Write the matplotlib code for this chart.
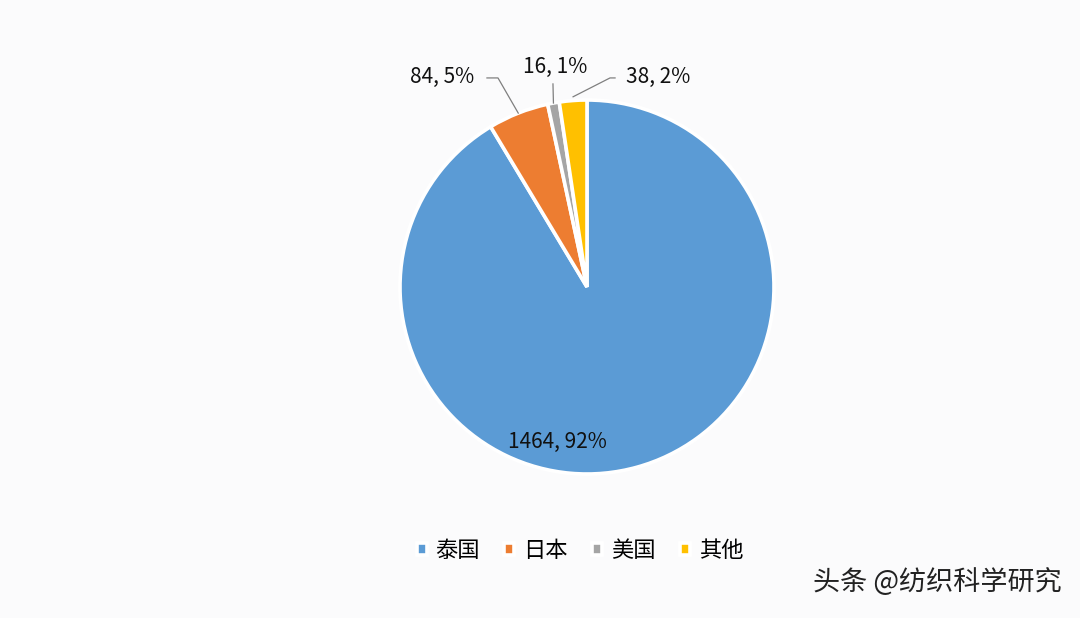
import numpy as np
import matplotlib.pyplot as plt

plt.rcParams['font.family'] = ['Noto Sans CJK SC', 'DejaVu Sans']

# data
countries = ["泰国", "日本", "美国", "其他"]
values = [1464, 84, 16, 38]
pct_labels = ["92%", "5%", "1%", "2%"]
colors = ["#5B9BD5", "#ED7D31", "#A5A5A5", "#FFC000"]

W, H = 1080, 618
fig = plt.figure(figsize=(W / 100, H / 100), dpi=100)
fig.patch.set_facecolor("#fbfbfc")

# pie placed by pixel centre and radius
cx, cy, r = 587, 287, 187
ax = fig.add_axes([(cx - r) / W, 1 - (cy + r) / H, 2 * r / W, 2 * r / H])
wedges, _ = ax.pie(values, colors=colors, startangle=90, counterclock=False,
                   wedgeprops=dict(edgecolor="white", linewidth=2.6))
ax.set_xlim(-1, 1)
ax.set_ylim(-1, 1)
ax.set_aspect("equal")
ax.axis("off")

texts = [f"{v}, {p}" for v, p in zip(values, pct_labels)]

# mid angles of the wedges
mids = [np.deg2rad((w.theta1 + w.theta2) / 2) for w in wedges]
edge = [(np.cos(a), np.sin(a)) for a in mids]

fs = 15
tc = "#111111"
ax.text(-0.16, -0.83, texts[0], ha="center", va="center", fontsize=fs, color=tc)

# 日本
ax.text(-0.775, 1.123, texts[1], ha="center", va="center", fontsize=fs, color=tc)
ax.plot([-0.535, -0.476, edge[1][0]], [1.118, 1.118, edge[1][1]],
        color="#7f7f7f", lw=0.9, clip_on=False)
# 美国
ax.text(-0.171, 1.176, texts[2], ha="center", va="center", fontsize=fs, color=tc)
ax.plot([-0.182, edge[2][0]], [1.086, edge[2][1]],
        color="#7f7f7f", lw=0.9, clip_on=False)
# 其他
ax.text(0.38, 1.123, texts[3], ha="center", va="center", fontsize=fs, color=tc)
ax.plot([0.15, 0.123, edge[3][0]], [1.118, 1.118, edge[3][1] + 0.02],
        color="#7f7f7f", lw=0.9, clip_on=False)

fig.legend(wedges, countries, loc="center", bbox_to_anchor=(0.537, 0.11), ncol=4,
           frameon=False, fontsize=16, handlelength=0.45, handleheight=0.45,
           handletextpad=0.4, columnspacing=1.1)

fig.text(0.983, 0.058, "头条 @纺织科学研究", ha="right", va="center",
         fontsize=19.5, color="#222222")

fig.savefig("out.png", dpi=100, facecolor=fig.get_facecolor())
